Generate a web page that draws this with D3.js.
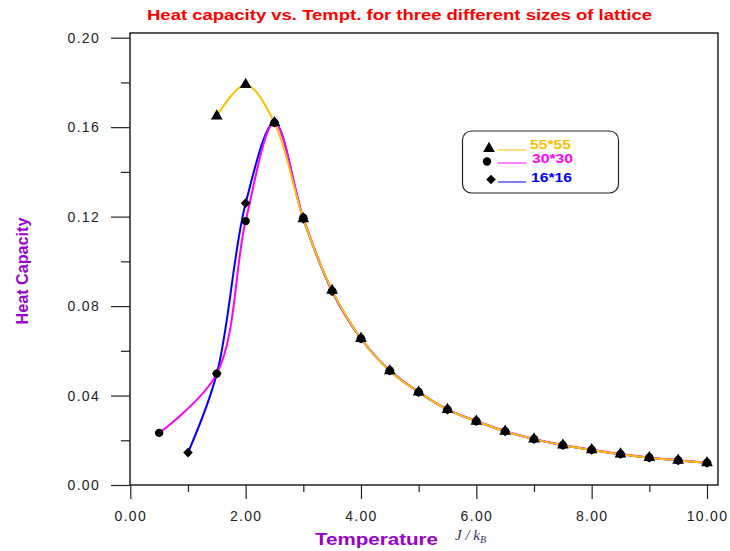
<!DOCTYPE html>
<html>
<head>
<meta charset="utf-8">
<script src="https://cdn.jsdelivr.net/npm/d3@7"></script>
<style>
  body { margin: 0; background: #fff; }
  svg { display: block; }
</style>
</head>
<body>
<div id="chart"></div>
<script>
// Heat capacity vs temperature, three lattice sizes
const temps55 = [1.5, 2.0, 2.5, 3.0, 3.5, 4.0, 4.5, 5.0, 5.5, 6.0, 6.5, 7.0, 7.5, 8.0, 8.5, 9.0, 9.5, 10.0];
const cap55 = [0.165, 0.179, 0.162, 0.119, 0.087, 0.0655, 0.051, 0.0415, 0.0337, 0.0285, 0.024, 0.0205, 0.0178, 0.0157, 0.0138, 0.0122, 0.011, 0.0099];

const temps30 = [0.5, 1.5, 2.0, 2.5, 3.0, 3.5, 4.0, 4.5, 5.0, 5.5, 6.0, 6.5, 7.0, 7.5, 8.0, 8.5, 9.0, 9.5, 10.0];
const cap30 = [0.0233, 0.0498, 0.118, 0.162, 0.1195, 0.0868, 0.0655, 0.0512, 0.0416, 0.0338, 0.0286, 0.0241, 0.0206, 0.0179, 0.0158, 0.0139, 0.0123, 0.0111, 0.01];

const temps16 = [1.0, 1.5, 2.0, 2.5, 3.0, 3.5, 4.0, 4.5, 5.0, 5.5, 6.0, 6.5, 7.0, 7.5, 8.0, 8.5, 9.0, 9.5, 10.0];
const cap16 = [0.0145, 0.0498, 0.126, 0.162, 0.119, 0.0866, 0.0654, 0.0511, 0.0415, 0.0337, 0.0285, 0.024, 0.0205, 0.0178, 0.0157, 0.0138, 0.0122, 0.011, 0.0099];

const xMajor = [0, 2, 4, 6, 8, 10];
const xMinor = [1, 3, 5, 7, 9];
const yMajor = [0, 0.04, 0.08, 0.12, 0.16, 0.20];
const yMinor = [0.02, 0.06, 0.10, 0.14, 0.18];

const series = [
  { name: '16*16', t: temps16, c: cap16, color: '#0000ff', symbol: d3.symbolDiamond2 },
  { name: '30*30', t: temps30, c: cap30, color: '#ff00ff', symbol: d3.symbolCircle },
  { name: '55*55', t: temps55, c: cap55, color: '#ffc000', symbol: d3.symbolTriangle }
];

const width = 730, height = 551;
const frame = { left: 130, right: 718, top: 33, bottom: 485 };

const x = d3.scaleLinear().domain([0, 10]).range([130.3, 707]);
const y = d3.scaleLinear().domain([0, 0.2]).range([485, 37.7]);

const svg = d3.select('#chart').append('svg')
  .attr('width', width)
  .attr('height', height)
  .style('font-family', 'Arial, "Liberation Sans", sans-serif');

// Title
svg.append('text')
  .attr('x', 147)
  .attr('y', 20)
  .attr('fill', '#ff0000')
  .attr('font-size', '14.5px')
  .attr('font-weight', 'bold')
  .attr('textLength', 505)
  .attr('lengthAdjust', 'spacingAndGlyphs')
  .text('Heat capacity vs. Tempt. for three different sizes of lattice');

// Frame
svg.append('rect')
  .attr('x', frame.left)
  .attr('y', frame.top)
  .attr('width', frame.right - frame.left)
  .attr('height', frame.bottom - frame.top)
  .attr('fill', 'none')
  .attr('stroke', '#000')
  .attr('stroke-width', 1.3);

// Axes
const xAxis = d3.axisBottom(x).tickValues(xMajor).tickSize(14).tickPadding(12)
  .tickFormat(d3.format('.2f'));
const xAxisMinor = d3.axisBottom(x).tickValues(xMinor).tickSize(7).tickFormat('');
const yAxis = d3.axisLeft(y).tickValues(yMajor).tickSize(19).tickPadding(11)
  .tickFormat(d3.format('.2f'));
const yAxisMinor = d3.axisLeft(y).tickValues(yMinor).tickSize(9).tickFormat('');

function styleAxis(g) {
  g.select('.domain').remove();
  g.selectAll('line').attr('stroke', '#222').attr('stroke-width', 1.2);
  g.selectAll('text').attr('fill', '#222').attr('font-size', '14px')
    .attr('letter-spacing', '1.3px')
    .attr('font-family', 'Arial, "Liberation Sans", sans-serif');
}

svg.append('g').attr('transform', `translate(0,${frame.bottom})`).call(xAxis).call(styleAxis);
svg.append('g').attr('transform', `translate(0,${frame.bottom})`).call(xAxisMinor).call(styleAxis);
svg.append('g').attr('transform', `translate(${frame.left},0)`).call(yAxis).call(styleAxis);
svg.append('g').attr('transform', `translate(${frame.left},0)`).call(yAxisMinor).call(styleAxis);

// Axis labels
svg.append('text')
  .attr('transform', 'translate(28,271) rotate(-90)')
  .attr('text-anchor', 'middle')
  .attr('fill', '#9900cc')
  .attr('font-size', '16px')
  .attr('font-weight', 'bold')
  .attr('font-family', '"Liberation Sans Narrow", "Arial Narrow", sans-serif')
  .attr('textLength', 107)
  .attr('lengthAdjust', 'spacingAndGlyphs')
  .text('Heat Capacity');

svg.append('text')
  .attr('x', 315)
  .attr('y', 545)
  .attr('fill', '#9900cc')
  .attr('font-size', '16px')
  .attr('font-weight', 'bold')
  .attr('textLength', 123)
  .attr('lengthAdjust', 'spacingAndGlyphs')
  .text('Temperature');

const unit = svg.append('text')
  .attr('x', 455)
  .attr('y', 540)
  .attr('fill', '#333366')
  .attr('font-family', '"Liberation Serif", "Times New Roman", serif')
  .attr('font-style', 'italic')
  .attr('font-size', '15px');
unit.append('tspan').text('J / k');
unit.append('tspan').attr('dy', 3).attr('font-size', '10px').text('B');

// Curves
const line = d3.line()
  .x(d => x(d[0]))
  .y(d => y(d[1]))
  .curve(d3.curveCatmullRom.alpha(0.5));

const plot = svg.append('g');

series.forEach(s => {
  const pts = s.t.map((t, i) => [t, s.c[i]]);
  plot.append('path')
    .datum(pts)
    .attr('d', line)
    .attr('fill', 'none')
    .attr('stroke', s.color)
    .attr('stroke-width', 2);
});

// Markers (black)
const symbolSize = { '55*55': 60, '30*30': 55, '16*16': 60 };
series.forEach(s => {
  plot.append('g').selectAll('path')
    .data(s.t.map((t, i) => [t, s.c[i]]))
    .join('path')
    .attr('transform', d => `translate(${x(d[0])},${y(d[1])})`)
    .attr('d', d3.symbol().type(s.symbol).size(symbolSize[s.name]))
    .attr('fill', '#000');
});

// Legend
const legend = svg.append('g');
legend.append('rect')
  .attr('x', 462.5)
  .attr('y', 131)
  .attr('width', 156)
  .attr('height', 62)
  .attr('rx', 9)
  .attr('fill', '#fff')
  .attr('stroke', '#222')
  .attr('stroke-width', 1.2);

const legendRows = [
  { s: series[2], mx: 489, my: 148.5, y: 150, tx: 530, ty: 149 },
  { s: series[1], mx: 487, my: 161.5, y: 163, tx: 532, ty: 163 },
  { s: series[0], mx: 491, my: 179.5, y: 182, tx: 531, ty: 182 }
];

legendRows.forEach(r => {
  legend.append('path')
    .attr('transform', `translate(${r.mx},${r.my})`)
    .attr('d', d3.symbol().type(r.s.symbol).size(symbolSize[r.s.name]))
    .attr('fill', '#000');
  legend.append('line')
    .attr('x1', 498).attr('x2', 526)
    .attr('y1', r.y).attr('y2', r.y)
    .attr('stroke', r.s.color)
    .attr('stroke-width', 1);
  legend.append('text')
    .attr('x', r.tx)
    .attr('y', r.ty)
    .attr('fill', r.s.color)
    .attr('font-size', '12px')
    .attr('font-weight', 'bold')
    .attr('textLength', 41)
    .attr('lengthAdjust', 'spacingAndGlyphs')
    .text(r.s.name);
});
</script>
</body>
</html>
